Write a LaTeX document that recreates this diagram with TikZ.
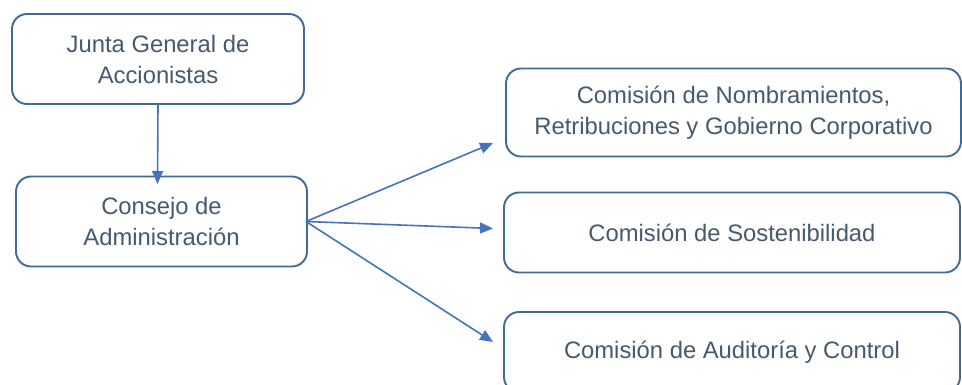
\documentclass[tikz,border=0pt]{standalone}
\usepackage{fontspec}
\setmainfont{Liberation Sans}
\usetikzlibrary{arrows.meta}
\definecolor{boxline}{RGB}{66,106,150}
\definecolor{txt}{RGB}{70,90,110}
\definecolor{arr}{RGB}{70,115,190}
\begin{document}
\begin{tikzpicture}[x=1pt,y=-1pt,
  orgbox/.style={draw=boxline,line width=1.9pt,rounded corners=15pt,fill=white,
    inner sep=0pt,align=center,text=txt,
    font=\fontsize{23.8}{31}\selectfont},
  link/.style={draw=arr,line width=1.6pt,-{Triangle[length=13pt,width=11pt]}}]
\useasboundingbox (0,0) rectangle (962,385);
\fill[white] (0,0) rectangle (962,385);
\begin{scope}
\clip (0,0) rectangle (962,385);
\node[orgbox,minimum width=292pt,minimum height=90pt] (junta) at (158,59) {Junta General de\\Accionistas};
\node[orgbox,minimum width=291pt,minimum height=90pt] (consejo) at (161.5,221.5) {Consejo de\\Administración};
\node[orgbox,minimum width=455pt,minimum height=88pt] (nomb) at (733.5,112.5) {Comisión de Nombramientos,\\Retribuciones y Gobierno Corporativo};
\node[orgbox,minimum width=456pt,minimum height=80pt] (sost) at (732,232.5) {Comisión de Sostenibilidad};
\node[orgbox,minimum width=456pt,minimum height=80pt] (audit) at (732,352) {Comisión de Auditoría y Control};
\end{scope}
\coordinate (src) at ([xshift=-2pt]consejo.east);
\coordinate (t1) at (493,143);
\coordinate (t2) at (493,228.5);
\coordinate (t3) at (493,342);
\coordinate (t0) at (157.5,184);
\draw[link] (junta.south) -- (t0);
\draw[link] (src) -- (t1);
\draw[link] (src) -- (t2);
\draw[link] (src) -- (t3);
\end{tikzpicture}
\end{document}
